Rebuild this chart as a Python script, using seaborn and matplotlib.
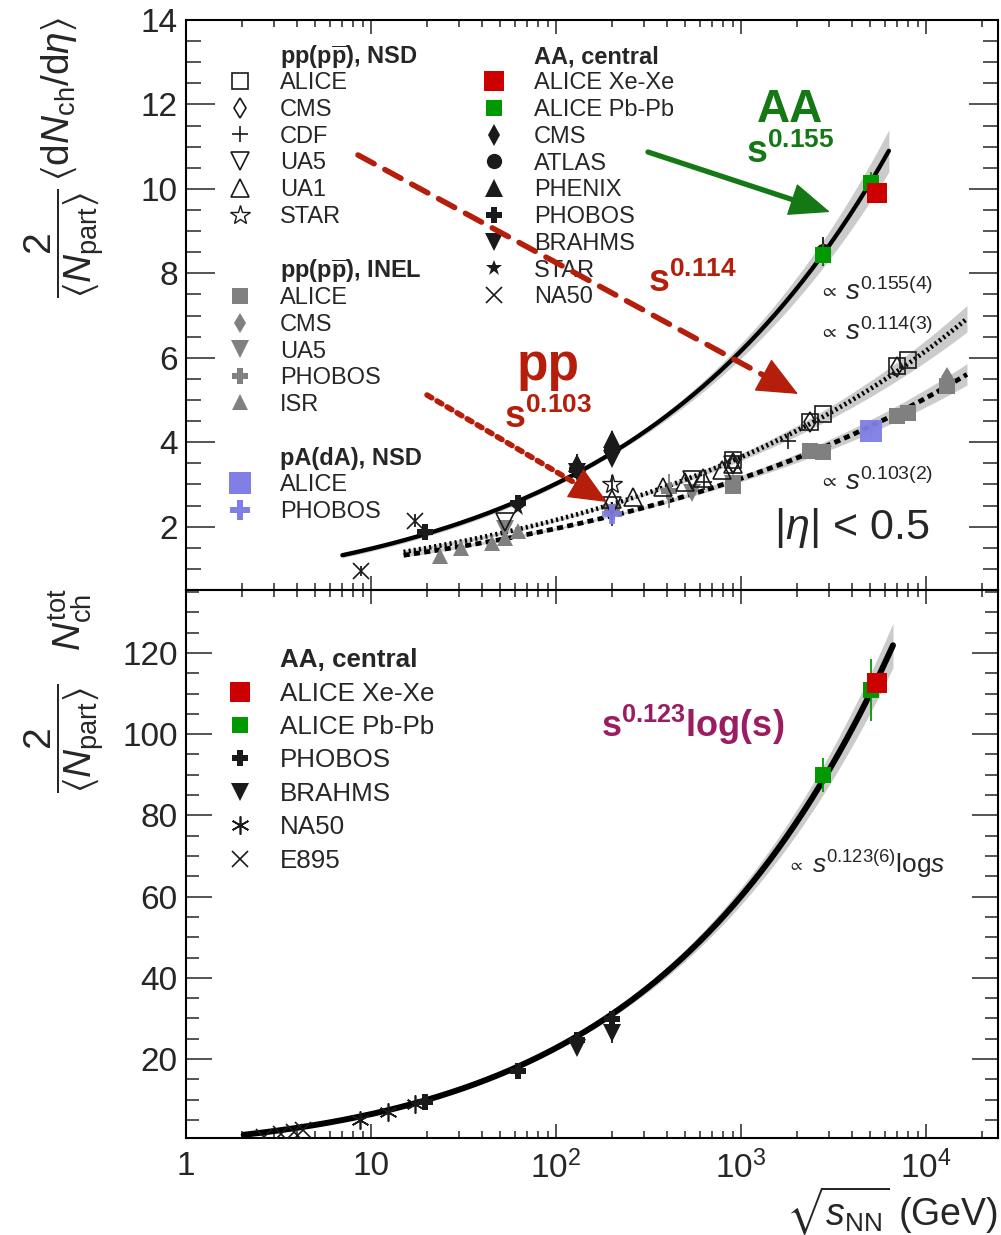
import numpy as np
import matplotlib
matplotlib.use("Agg")
import matplotlib.pyplot as plt
import matplotlib.ticker as mt
from matplotlib.lines import Line2D
from matplotlib.legend import Legend
import seaborn as sns

# ---------------- data ----------------
# top panel: 2/<Npart> <dNch/deta>
# pp NSD (open symbols)
nsd_alice_E = [900, 2360, 2760, 7000, 8000]
nsd_alice_y = [3.58, 4.47, 4.66, 5.81, 5.95]
nsd_cms_E = [900, 2360, 7000]
nsd_cms_y = [3.50, 4.47, 5.78]
nsd_cdf_E = [630, 1800]
nsd_cdf_y = [3.05, 4.02]
nsd_ua5_E = [53, 200, 546, 900]
nsd_ua5_y = [2.11, 2.48, 3.10, 3.45]
nsd_ua1_E = [200, 260, 380, 500, 620, 790, 900]
nsd_ua1_y = [2.65, 2.71, 2.95, 3.05, 3.15, 3.35, 3.48]
nsd_star_E = [200]
nsd_star_y = [3.02]
# pp INEL (grey)
inel_alice_E = [900, 2360, 2760, 7000, 8000, 13000]
inel_alice_y = [2.97, 3.79, 3.77, 4.62, 4.69, 5.33]
inel_cms_E = [13000]
inel_cms_y = [5.55]
inel_ua5_E = [53, 200, 546, 900]
inel_ua5_y = [1.95, 2.33, 2.80, 3.00]
inel_phobos_E = [200, 410]
inel_phobos_y = [2.35, 2.85]
inel_isr_E = [23.6, 30.8, 45.2, 53.2, 62.7]
inel_isr_y = [1.31, 1.50, 1.62, 1.73, 1.90]
# pA (dA) NSD
pa_alice_E = [5020]
pa_alice_y = [4.27]
pa_phobos_E = [200]
pa_phobos_y = [2.30]
# AA central
aa_xexe_E = [5440]
aa_xexe_y = [9.91]
aa_pbpb_E = [2760, 5020]
aa_pbpb_y = [8.44, 10.14]
aa_cms_E = [130, 200]
aa_cms_y = [3.43, 3.75]
aa_atlas_E = [2760]
aa_atlas_y = [8.52]
aa_phenix_E = [130, 200]
aa_phenix_y = [3.50, 4.07]
aa_phobos_E = [19.6, 62.4, 130, 200]
aa_phobos_y = [1.88, 2.55, 3.35, 3.82]
aa_brahms_E = [130, 200]
aa_brahms_y = [3.30, 3.60]
aa_star_E = [62.4, 200]
aa_star_y = [2.45, 3.80]
aa_na50_E = [8.8, 17.3]
aa_na50_y = [0.96, 2.14]

# bottom panel: 2/<Npart> Nch_tot
tot_xexe_E = [5440]
tot_xexe_y = [112.6]
tot_pbpb_E = [2760, 5020]
tot_pbpb_y = [90.0, 110.9]
tot_pbpb_err = [4.2, 7.6]
tot_phobos_E = [19.6, 62.4, 130, 200]
tot_phobos_y = [9.4, 17.0, 24.7, 29.9]
tot_brahms_E = [130, 200]
tot_brahms_y = [22.7, 26.4]
tot_na50_E = [8.77, 12.3, 17.3]
tot_na50_y = [5.0, 6.9, 8.9]
tot_e895_E = [2.63, 3.28, 3.84, 4.29]
tot_e895_y = [0.8, 1.5, 2.0, 2.5]

# fit parameters (power laws in s = E^2)
fit_aa_exp, fit_aa_norm = 0.155, 0.724
fit_nsd_exp, fit_nsd_norm = 0.114, 0.755
fit_inel_exp, fit_inel_norm = 0.103, 0.757
fit_tot_exp, fit_tot_norm = 0.123, 0.795

xticks = [1, 10, 100, 1000, 10000]

# ---------------- style ----------------
sns.set_theme(style="ticks")
plt.rcParams.update({
    "font.family": ["Liberation Sans", "DejaVu Sans"],
    "mathtext.fontset": "custom",
    "mathtext.rm": "Liberation Sans",
    "mathtext.it": "Liberation Sans:italic",
    "mathtext.bf": "Liberation Sans:bold",
    "mathtext.sf": "Liberation Sans",
    "mathtext.fallback": "stixsans",
    "axes.edgecolor": "black",
    "axes.linewidth": 1.5,
    "axes.facecolor": "white",
})

W, H = 1001, 1235


def F(x, y):
    return (x / W, 1 - y / H)


RED = "#cc0000"
GREEN = "#009900"
BLUE = "#7f7fe6"
GREY = "#808080"
ARED = "#b41e0a"
AGREEN = "#147814"
PURPLE = "#9b1c60"

fig = plt.figure(figsize=(W / 100, H / 100), dpi=100)
ax1 = fig.add_axes([186 / W, 1 - 590 / H, 812 / W, 570 / H])
ax2 = fig.add_axes([186 / W, 1 - 1138.3 / H, 812 / W, 548.3 / H])

ST = {
    "nsd_alice": dict(marker="s", ms=11, mfc="none", mec="k", mew=1.2),
    "nsd_cms": dict(marker="d", ms=10, mfc="none", mec="k", mew=1.2),
    "nsd_cdf": dict(marker="+", ms=12, mfc="none", mec="k", mew=1.2),
    "nsd_ua5": dict(marker="v", ms=13, mfc="none", mec="k", mew=1.2),
    "nsd_ua1": dict(marker="^", ms=13, mfc="none", mec="k", mew=1.2),
    "nsd_star": dict(marker="*", ms=15, mfc="none", mec="k", mew=1.0),
    "inel_alice": dict(marker="s", ms=11, mfc=GREY, mec=GREY, mew=0),
    "inel_cms": dict(marker="d", ms=10, mfc=GREY, mec=GREY, mew=0),
    "inel_ua5": dict(marker="v", ms=13, mfc=GREY, mec=GREY, mew=0),
    "inel_phobos": dict(marker="P", ms=12, mfc=GREY, mec=GREY, mew=0),
    "inel_isr": dict(marker="^", ms=12, mfc=GREY, mec=GREY, mew=0),
    "pa_alice": dict(marker="s", ms=16, mfc=BLUE, mec=BLUE, mew=0),
    "pa_phobos": dict(marker="P", ms=14, mfc=BLUE, mec=BLUE, mew=0),
    "aa_xexe": dict(marker="s", ms=15, mfc=RED, mec=RED, mew=0),
    "aa_pbpb": dict(marker="s", ms=11, mfc=GREEN, mec=GREEN, mew=0),
    "aa_cms": dict(marker="d", ms=11, mfc="k", mec="k", mew=0),
    "aa_atlas": dict(marker="o", ms=11, mfc="k", mec="k", mew=0),
    "aa_phenix": dict(marker="^", ms=13, mfc="k", mec="k", mew=0),
    "aa_phobos": dict(marker="P", ms=12, mfc="k", mec="k", mew=0),
    "aa_brahms": dict(marker="v", ms=13, mfc="k", mec="k", mew=0),
    "aa_star": dict(marker="*", ms=12, mfc="k", mec="k", mew=0),
    "aa_na50": dict(marker="x", ms=11, mfc="none", mec="k", mew=1.2),
    "tot_xexe": dict(marker="s", ms=15, mfc=RED, mec=RED, mew=0),
    "tot_pbpb": dict(marker="s", ms=11.5, mfc=GREEN, mec=GREEN, mew=0),
    "tot_phobos": dict(marker="P", ms=12, mfc="k", mec="k", mew=0),
    "tot_brahms": dict(marker="v", ms=13, mfc="k", mec="k", mew=0),
    "tot_na50": dict(marker=(6, 2, 0), ms=13, mfc="none", mec="k", mew=1.2),
    "tot_e895": dict(marker="x", ms=12, mfc="none", mec="k", mew=1.2),
}


def pts(ax, E, y, key, yerr=None, ecolor=None, z=4, alpha=1.0):
    st = ST[key]
    ax.errorbar(E, y, yerr=yerr, fmt="", linestyle="none",
                ecolor=ecolor if ecolor else (st["mec"] if st["mec"] != "none" else "k"),
                elinewidth=1.3, capsize=0, zorder=z, alpha=alpha, **st)


# ---------------- fits with bands ----------------
def fit_curve(ax, E, f, rel, ls, lw):
    ax.fill_between(E, f * (1 - rel), f * (1 + rel), color="#cbcbcb", lw=0, zorder=1)
    sns.lineplot(x=E, y=f, ax=ax, color="black", lw=lw, linestyle=ls,
                 estimator=None, sort=False, zorder=2, legend=False)


E_aa = np.logspace(np.log10(7.0), np.log10(6300), 300)
f_aa = fit_aa_norm * (E_aa ** 2) ** fit_aa_exp
fit_curve(ax1, E_aa, f_aa, 0.013 + 0.0095 * np.abs(np.log(E_aa) - 5.3), "-", 3.1)

E_pp = np.logspace(np.log10(15), np.log10(16650), 300)
f_nsd = fit_nsd_norm * (E_pp ** 2) ** fit_nsd_exp
fit_curve(ax1, E_pp, f_nsd, 0.010 + 0.0080 * np.abs(np.log(E_pp) - 5.3), (0, (0.45, 0.65)), 3.4)
f_inel = fit_inel_norm * (E_pp ** 2) ** fit_inel_exp
fit_curve(ax1, E_pp, f_inel, 0.010 + 0.0080 * np.abs(np.log(E_pp) - 5.3), (0, (1.3, 0.9)), 3.4)

E_tot = np.logspace(np.log10(2.05), np.log10(6630), 300)
f_tot = fit_tot_norm * (E_tot ** 2) ** fit_tot_exp * np.log(E_tot ** 2)
fit_curve(ax2, E_tot, f_tot, 0.0055 * (np.log(E_tot) - 0.6), "-", 4.3)

# ---------------- points: top panel ----------------
pts(ax1, inel_isr_E, inel_isr_y, "inel_isr")
pts(ax1, inel_ua5_E, inel_ua5_y, "inel_ua5")
pts(ax1, inel_phobos_E, inel_phobos_y, "inel_phobos", yerr=[0.1, 0.4])
pts(ax1, inel_alice_E, inel_alice_y, "inel_alice", yerr=[0.05, 0.12, 0.05, 0.12, 0.12, 0.05])
pts(ax1, inel_cms_E, inel_cms_y, "inel_cms")
pts(ax1, nsd_ua5_E, nsd_ua5_y, "nsd_ua5")
pts(ax1, nsd_ua1_E, nsd_ua1_y, "nsd_ua1")
pts(ax1, nsd_cdf_E, nsd_cdf_y, "nsd_cdf")
pts(ax1, nsd_star_E, nsd_star_y, "nsd_star", yerr=[0.2])
pts(ax1, nsd_alice_E, nsd_alice_y, "nsd_alice")
pts(ax1, nsd_cms_E, nsd_cms_y, "nsd_cms")
pts(ax1, pa_alice_E, pa_alice_y, "pa_alice", yerr=[0.18], z=5, alpha=0.95)
pts(ax1, pa_phobos_E, pa_phobos_y, "pa_phobos", yerr=[0.28], ecolor="k", z=5, alpha=0.9)
pts(ax1, aa_na50_E, aa_na50_y, "aa_na50", yerr=[0.12, 0.15])
pts(ax1, aa_phobos_E, aa_phobos_y, "aa_phobos")
pts(ax1, aa_star_E, aa_star_y, "aa_star")
pts(ax1, aa_brahms_E, aa_brahms_y, "aa_brahms")
pts(ax1, aa_phenix_E, aa_phenix_y, "aa_phenix", yerr=[0.15, 0.2])
pts(ax1, aa_cms_E, aa_cms_y, "aa_cms", yerr=[0.28, 0.3])
pts(ax1, aa_atlas_E, aa_atlas_y, "aa_atlas", yerr=[0.35])
pts(ax1, aa_pbpb_E, aa_pbpb_y, "aa_pbpb", yerr=[0.25, 0.25], z=5)
pts(ax1, aa_xexe_E, aa_xexe_y, "aa_xexe", yerr=[0.25], z=5)

# ---------------- points: bottom panel ----------------
pts(ax2, tot_e895_E, tot_e895_y, "tot_e895")
pts(ax2, tot_na50_E, tot_na50_y, "tot_na50")
pts(ax2, tot_phobos_E, tot_phobos_y, "tot_phobos", yerr=[0.6, 1.0, 1.2, 1.4])
pts(ax2, tot_brahms_E, tot_brahms_y, "tot_brahms", yerr=[1.0, 2.5])
pts(ax2, tot_pbpb_E, tot_pbpb_y, "tot_pbpb", yerr=tot_pbpb_err, z=5)
pts(ax2, tot_xexe_E, tot_xexe_y, "tot_xexe", yerr=[2.5], z=6)

# ---------------- axes ----------------
for ax in (ax1, ax2):
    ax.set_xscale("log")
    ax.set_xlim(1, 24500)
    ax.xaxis.set_major_locator(mt.FixedLocator(xticks))
    ax.xaxis.set_minor_locator(mt.LogLocator(base=10, subs=np.arange(2, 10), numticks=30))
    ax.xaxis.set_minor_formatter(mt.NullFormatter())
    ax.tick_params(axis="x", which="major", direction="in", length=10, width=1.1,
                   top=True, bottom=True, labelsize=24, pad=9)
    ax.tick_params(axis="x", which="minor", direction="in", length=5, width=1.1,
                   top=True, bottom=True)
    ax.set_xlabel("")
    ax.set_ylabel("")
    ax.grid(False)

ax1.set_ylim(0.5, 14)
ax1.yaxis.set_major_locator(mt.FixedLocator([2, 4, 6, 8, 10, 12, 14]))
ax1.yaxis.set_minor_locator(mt.MultipleLocator(0.5))
ax1.tick_params(axis="y", which="major", direction="in", length=21, width=1.1,
                left=True, right=True, labelsize=24, pad=6)
ax1.tick_params(axis="y", which="minor", direction="in", length=11, width=1.1,
                left=True, right=True)
ax1.tick_params(axis="x", labelbottom=False)

ax2.set_ylim(0.5, 135.5)
ax2.yaxis.set_major_locator(mt.FixedLocator([20, 40, 60, 80, 100, 120]))
ax2.yaxis.set_minor_locator(mt.MultipleLocator(5))
ax2.tick_params(axis="y", which="major", direction="in", length=19, width=1.1,
                left=True, right=True, labelsize=24, pad=6)
ax2.tick_params(axis="y", which="minor", direction="in", length=9.5, width=1.1,
                left=True, right=True)


def xfmt(v, p):
    if v == 1:
        return "1"
    if v == 10:
        return "10"
    return r"$10^{%d}$" % round(np.log10(v))


ax2.xaxis.set_major_formatter(mt.FuncFormatter(xfmt))

# ---------------- axis titles ----------------
fig.text(*F(64, 17), r"$\dfrac{2}{\langle N_{\rm part}\rangle}\,\langle \mathrm{d}N_{\rm ch}/\mathrm{d}\eta\rangle$",
         rotation=90, ha="center", va="top", fontsize=28)
fig.text(*F(64, 738), r"$\dfrac{2}{\langle N_{\rm part}\rangle}$",
         rotation=90, ha="center", va="center", fontsize=28)
fig.text(*F(70, 588), r"$N_{\rm ch}^{\rm tot}$", rotation=90, ha="center", va="top", fontsize=28)
fig.text(*F(998, 1225), r"$\sqrt{s_{\rm NN}}$ (GeV)", ha="right", va="baseline", fontsize=27)


# ---------------- legends ----------------
def legend_block(ax, keys, labels, x_marker, y_first, fs, pitch):
    fs_px = fs * 100 / 72
    hl = 1.0
    handles = [Line2D([], [], linestyle="none", **ST[k]) for k in keys]
    pad = (40 - hl * fs_px / 2) / fs_px
    ls, dx, dy = 0.1, 0.0, 0.0
    leg = None
    for it in range(3):
        if leg is not None:
            leg.remove()
        leg = Legend(ax, handles, labels, loc="upper left",
                     bbox_to_anchor=F(x_marker - hl * fs_px / 2 + dx, y_first - pitch / 2 + dy),
                     bbox_transform=fig.transFigure, frameon=False, fontsize=fs,
                     handlelength=hl, labelspacing=ls, handletextpad=pad, borderpad=0,
                     borderaxespad=0, numpoints=1)
        leg.set_zorder(3)
        ax.add_artist(leg)
        fig.canvas.draw()
        ext = [t.get_window_extent() for t in leg.get_texts()]
        cy = [H - (e.y0 + e.y1) / 2 for e in ext]
        if len(cy) > 1:
            act = (cy[-1] - cy[0]) / (len(cy) - 1)
            ls += (pitch - act) / fs_px
        dy += (y_first + 0.1 * fs_px) - cy[0]
        dx += (x_marker + 40) - ext[0].x0
    return leg


def header(x, y, txt, fs):
    fig.text(*F(x, y + 0.1 * fs * 100 / 72), txt, fontsize=fs, fontweight="bold", va="center")


FS = 17
PB = r"p$\overline{\mathbf{p}}$"
header(280, 55, "pp(" + PB + "), NSD", FS)
legend_block(ax1, ["nsd_alice", "nsd_cms", "nsd_cdf", "nsd_ua5", "nsd_ua1", "nsd_star"],
             ["ALICE", "CMS", "CDF", "UA5", "UA1", "STAR"], 240, 81, FS, 26.7)
header(280, 269, "pp(" + PB + "), INEL", FS)
legend_block(ax1, ["inel_alice", "inel_cms", "inel_ua5", "inel_phobos", "inel_isr"],
             ["ALICE", "CMS", "UA5", "PHOBOS", "ISR"], 240, 296, FS, 26.6)
header(280, 456, "pA(dA), NSD", FS)
legend_block(ax1, ["pa_alice", "pa_phobos"], ["ALICE", "PHOBOS"], 240, 483, FS, 27)
header(534, 55, "AA, central", FS)
legend_block(ax1, ["aa_xexe", "aa_pbpb", "aa_cms", "aa_atlas", "aa_phenix", "aa_phobos",
                   "aa_brahms", "aa_star", "aa_na50"],
             ["ALICE Xe-Xe", "ALICE Pb-Pb", "CMS", "ATLAS", "PHENIX", "PHOBOS", "BRAHMS",
              "STAR", "NA50"], 494, 81, FS, 26.75)

FS2 = 18.7
header(280, 657, "AA, central", FS2)
legend_block(ax2, ["tot_xexe", "tot_pbpb", "tot_phobos", "tot_brahms", "tot_na50", "tot_e895"],
             ["ALICE Xe-Xe", "ALICE Pb-Pb", "PHOBOS", "BRAHMS", "NA50", "E895"],
             240, 691, FS2, 33.4)

# ---------------- annotations ----------------
fig.text(*F(790, 122), "AA", fontsize=33, fontweight="bold", color=AGREEN, ha="center", va="baseline")
fig.text(*F(790, 163), r"$\mathbf{s^{0.155}}$", fontsize=27, color=AGREEN, ha="center", va="baseline")
fig.text(*F(692, 292), r"$\mathbf{s^{0.114}}$", fontsize=27, color=ARED, ha="center", va="baseline")
fig.text(*F(548, 380), "pp", fontsize=37, fontweight="bold", color=ARED, ha="center", va="baseline")
fig.text(*F(548, 428), r"$\mathbf{s^{0.103}}$", fontsize=27, color=ARED, ha="center", va="baseline")
fig.text(*F(693, 737), r"$\mathbf{s^{0.123}log(s)}$", fontsize=26, color=PURPLE, ha="center", va="baseline")


def arrow(tail, tip, color, ls, lw, hl, hw):
    tail = np.array(tail, float)
    tip = np.array(tip, float)
    u = (tip - tail) / np.hypot(*(tip - tail))
    hl_px = hl * 20 * 100 / 72
    base = tip - u * hl_px * 0.85
    a = ax1.annotate("", xy=F(*base), xycoords="figure fraction", xytext=F(*tail),
                     textcoords="figure fraction",
                     arrowprops=dict(arrowstyle="-", lw=lw, color=color, linestyle=ls,
                                     shrinkA=0, shrinkB=0))
    a.set_zorder(8)
    start = tip - u * (hl_px + 3)
    b = ax1.annotate("", xy=F(*tip), xycoords="figure fraction", xytext=F(*start),
                     textcoords="figure fraction",
                     arrowprops=dict(arrowstyle="-|>,head_length=%g,head_width=%g" % (hl, hw),
                                     lw=1.0, color=color, shrinkA=0, shrinkB=0,
                                     mutation_scale=20))
    b.set_zorder(8)


arrow((648, 152), (830, 212), AGREEN, "-", 3.8, 1.35, 0.55)
arrow((358, 155), (798, 394), ARED, (0, (3.3, 2.2)), 4.0, 1.35, 0.6)
arrow((427, 395), (607, 502), ARED, (0, (1.0, 1.1)), 4.0, 1.25, 0.55)

# fit labels
for y_prop, y_base, txt in [(291, 300, r"$s^{0.155(4)}$"), (332, 340, r"$s^{0.114(3)}$"),
                            (482, 490, r"$s^{0.103(2)}$")]:
    fig.text(*F(828, y_prop), r"$\propto$", fontsize=14, ha="center", va="center")
    fig.text(*F(845, y_base), txt, fontsize=20, ha="left", va="baseline")
fig.text(*F(796, 866), r"$\propto$", fontsize=12, ha="center", va="center")
fig.text(*F(812, 873), r"$s^{0.123(6)}\mathrm{log}s$", fontsize=19, ha="left", va="baseline")

fig.text(*F(852, 528), r"$|\eta|$ < 0.5", fontsize=31, ha="center", va="center")

fig.savefig("out.png", dpi=100)
